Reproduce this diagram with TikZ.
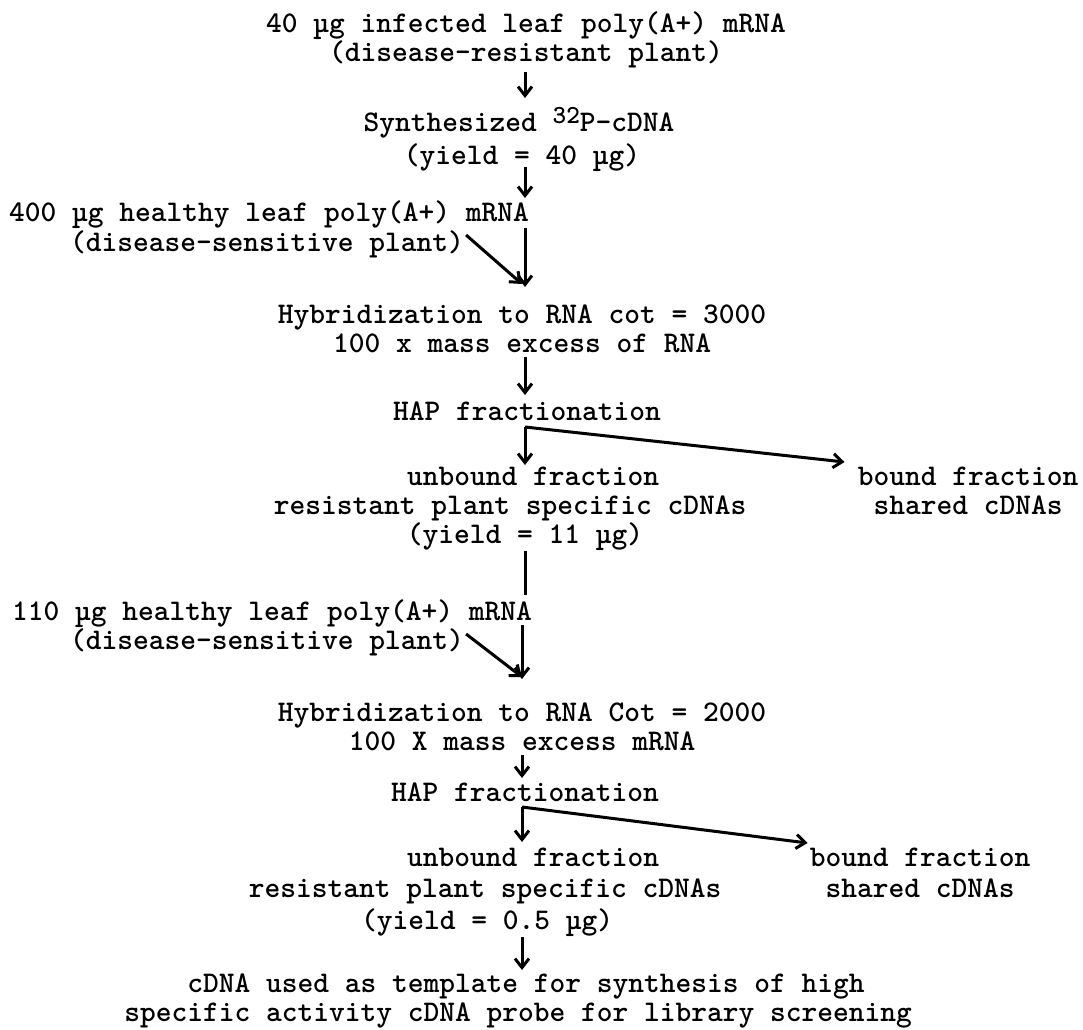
\documentclass[tikz,border=0pt]{standalone}
\usetikzlibrary{arrows.meta,calc}
\begin{document}
\begin{tikzpicture}[x=1pt,y=-1pt,
  txt/.style={font=\fontsize{30}{30}\selectfont\ttfamily\bfseries, inner sep=0pt, anchor=base},
  arr/.style={line width=3pt, -{Straight Barb[length=9pt,width=14pt,line width=3pt]}},
  ln/.style={line width=3pt}]
\useasboundingbox (0,0) rectangle (1083,1029);
\coordinate (c1) at (525,0);
\coordinate (c2) at (522,0);
% top block
\node[txt] (A1) at (526,32) {40 µg infected leaf poly(A+) mRNA};
\node[txt] (A2) at (526,61) {(disease-resistant plant)};
\node[txt] (B1) at (519,131) {Synthesized \raisebox{8pt}{\fontsize{26}{26}\selectfont 32}P-cDNA};
\node[txt] (B2) at (522,164) {(yield = 40 µg)};
\node[txt] (C1) at (269,221) {400 µg healthy leaf poly(A+) mRNA};
\node[txt] (C2) at (267,251) {(disease-sensitive plant)};
\node[txt] (D1) at (522,323) {Hybridization to RNA cot = 3000};
\node[txt] (D2) at (522,352) {100 x mass excess of RNA};
\node[txt] (E) at (527,420) {HAP fractionation};
\node[txt] (F1) at (533,485) {unbound fraction};
\node[txt] (F2) at (510,514) {resistant plant specific cDNAs};
\node[txt] (F3) at (525,543) {(yield = 11 µg)};
\node[txt] (G1) at (968,485) {bound fraction};
\node[txt] (G2) at (968,514) {shared cDNAs};
% bottom block
\node[txt] (H1) at (272,620) {110 µg healthy leaf poly(A+) mRNA};
\node[txt] (H2) at (267,649) {(disease-sensitive plant)};
\node[txt] (I1) at (522,721) {Hybridization to RNA Cot = 2000};
\node[txt] (I2) at (522,750) {100 X mass excess mRNA};
\node[txt] (J) at (525,801) {HAP fractionation};
\node[txt] (K1) at (533,866) {unbound fraction};
\node[txt] (K2) at (485,897) {resistant plant specific cDNAs};
\node[txt] (K3) at (487,929) {(yield = 0.5 µg)};
\node[txt] (M1) at (920,866) {bound fraction};
\node[txt] (M2) at (920,897) {shared cDNAs};
\node[txt] (L1) at (526,992) {cDNA used as template for synthesis of high};
\node[txt] (L2) at (518,1021) {specific activity cDNA probe for library screening};
% connectors
\draw[arr] ($(A2.base -| c1)+(0,11)$) -- ($(B1.base -| c1)+(0,-33)$);
\draw[arr] ($(B2.base -| c1)+(0,3)$) -- ($(C1.base -| c1)+(0,-23)$);
\draw[arr] ($(C1.base -| c1)+(0,7)$) -- ($(D1.base -| c1)+(0,-36)$);
\draw[arr] ($(C2.base east)+(2,-16)$) -- ($(D1.base -| c1)+(-3,-39)$);
\draw[arr] ($(D2.base -| c1)+(0,5)$) -- ($(E.base -| c1)+(0,-25)$);
\coordinate (br1) at ($(E.base -| c1)+(0,7)$);
\draw[arr] (br1) -- ($(F1.base -| c1)+(0,-20)$);
\draw[arr] (br1) -- ($(G1.base west)+(-13,-23)$);
\draw[ln] ($(F3.base -| c1)+(0,8)$) -- ($(H1.base -| c1)+(0,-25)$);
\draw[arr] ($(H1.base -| c2)+(0,5)$) -- ($(I1.base -| c2)+(0,-42)$);
\draw[arr] ($(H2.base east)+(2,-15)$) -- ($(I1.base -| c2)+(0,-44)$);
\draw[arr] ($(I2.base -| c2)+(0,5)$) -- ($(J.base -| c2)+(0,-23)$);
\coordinate (br2) at ($(J.base -| c2)+(0,6)$);
\draw[arr] (br2) -- ($(K1.base -| c2)+(0,-24)$);
\draw[arr] (br2) -- ($(M1.base west)+(-2,-23)$);
\draw[arr] ($(K3.base -| c2)+(0,8)$) -- ($(L1.base -| c2)+(0,-22)$);
\end{tikzpicture}
\end{document}
